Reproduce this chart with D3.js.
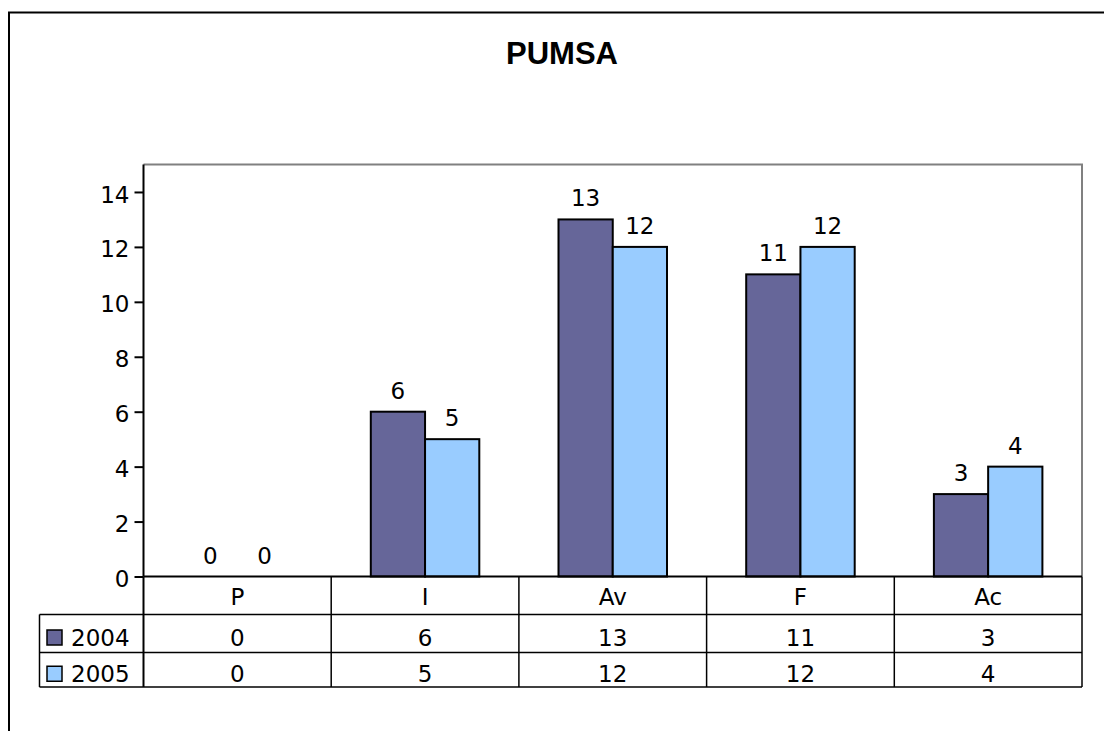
<!DOCTYPE html>
<html>
<head>
<meta charset="utf-8">
<script src="https://cdn.jsdelivr.net/npm/d3@7"></script>
<style>
  body { margin: 0; background: #fff; }
  text { font-family: "DejaVu Sans", Verdana, sans-serif; fill: #000; }
</style>
</head>
<body>
<svg width="1104" height="731"></svg>
<script>
// Data
var categories = ["P", "I", "Av", "F", "Ac"];
var seriesNames = ["2004", "2005"];
var values2004 = [0, 6, 13, 11, 3];
var values2005 = [0, 5, 12, 12, 4];
var yTicks = [0, 2, 4, 6, 8, 10, 12, 14];
var colours = ["#666699", "#99ccff"];

var series = [values2004, values2005];

// Layout
var width = 1104,
    height = 731,
    fontSize = "23px",
    plot = { left: 143.5, right: 1082, top: 164.5, bottom: 576.5 },
    rowH = [38, 38, 34.5];

var svg = d3.select("svg");

// Outer frame
svg.append("path")
    .attr("d", "M9,731V12.5H1104")
    .attr("fill", "none")
    .attr("stroke", "#000")
    .attr("stroke-width", 2);

// Title
svg.append("text")
    .attr("x", 562)
    .attr("y", 64)
    .attr("text-anchor", "middle")
    .style("font-family", "'Liberation Sans', Arial, sans-serif")
    .style("font-size", "31px")
    .style("font-weight", "bold")
    .text("PUMSA");

// Scales
var x = d3.scaleBand()
    .domain(categories)
    .range([plot.left, plot.right]);

var xInner = d3.scaleBand()
    .domain(seriesNames)
    .range([0, 108.5]);

var y = d3.scaleLinear()
    .domain([0, 15])
    .range([plot.bottom, plot.top]);

// Plot area border (grey)
svg.append("path")
    .attr("d", "M" + plot.left + "," + plot.top + "H" + plot.right + "V" + plot.bottom)
    .attr("fill", "none")
    .attr("stroke", "#808080")
    .attr("stroke-width", 2);

// Bars
var groups = svg.append("g")
    .selectAll("g")
    .data(series)
    .enter()
    .append("g");

groups.selectAll("rect")
    .data(function(d, i) {
        return d.map(function(v, j) { return { s: i, c: categories[j], v: v }; });
    })
    .enter()
    .filter(function(d) { return d.v > 0; })
    .append("rect")
    .attr("x", function(d) { return x(d.c) + (x.bandwidth() - 108.5) / 2 + xInner(seriesNames[d.s]); })
    .attr("y", function(d) { return y(d.v); })
    .attr("width", xInner.bandwidth())
    .attr("height", function(d) { return y(0) - y(d.v); })
    .attr("fill", function(d) { return colours[d.s]; })
    .attr("stroke", "#000")
    .attr("stroke-width", 2);

// Value labels
groups.selectAll("text")
    .data(function(d, i) {
        return d.map(function(v, j) { return { s: i, c: categories[j], v: v }; });
    })
    .enter()
    .append("text")
    .attr("x", function(d) { return x(d.c) + (x.bandwidth() - 108.5) / 2 + xInner(seriesNames[d.s]) + xInner.bandwidth() / 2; })
    .attr("y", function(d) { return y(d.v) - 13; })
    .attr("text-anchor", "middle")
    .style("font-size", fontSize)
    .text(function(d) { return d.v; });

// Y axis
var yAxis = d3.axisLeft(y)
    .tickValues(yTicks)
    .tickSize(9)
    .tickPadding(5);

var yg = svg.append("g")
    .attr("transform", "translate(" + plot.left + ",0)")
    .call(yAxis);

yg.select(".domain").attr("d", "M0," + plot.top + "V" + plot.bottom)
    .attr("stroke", "#000").attr("stroke-width", 2);
yg.selectAll(".tick line").attr("stroke", "#000").attr("stroke-width", 2);
yg.selectAll(".tick text")
    .style("font-size", fontSize)
    .attr("font-family", null)
    .attr("y", 2)
    .attr("dy", "0.35em");

// Data table
var tableTop = plot.bottom,
    rowTops = [tableTop, tableTop + rowH[0], tableTop + rowH[0] + rowH[1]],
    tableBottom = tableTop + rowH[0] + rowH[1] + rowH[2],
    legendLeft = 39.5;

var table = svg.append("g")
    .attr("stroke", "#000")
    .attr("stroke-width", 1.5)
    .attr("fill", "none");

// horizontal lines
table.append("line").attr("x1", plot.left).attr("x2", plot.right).attr("y1", tableTop).attr("y2", tableTop).attr("stroke-width", 2);
table.append("line").attr("x1", legendLeft).attr("x2", plot.right).attr("y1", rowTops[1]).attr("y2", rowTops[1]);
table.append("line").attr("x1", legendLeft).attr("x2", plot.right).attr("y1", rowTops[2]).attr("y2", rowTops[2]);
table.append("line").attr("x1", legendLeft).attr("x2", plot.right).attr("y1", tableBottom).attr("y2", tableBottom);

// vertical lines
table.append("line").attr("x1", legendLeft).attr("x2", legendLeft).attr("y1", rowTops[1]).attr("y2", tableBottom);
table.selectAll(".col")
    .data(categories)
    .enter()
    .append("line")
    .attr("x1", function(d) { return x(d) + x.bandwidth(); })
    .attr("x2", function(d) { return x(d) + x.bandwidth(); })
    .attr("y1", tableTop)
    .attr("y2", tableBottom);
table.append("line").attr("x1", plot.left).attr("x2", plot.left).attr("y1", tableTop).attr("y2", tableBottom).attr("stroke-width", 2);

// category labels
svg.append("g")
    .selectAll("text")
    .data(categories)
    .enter()
    .append("text")
    .attr("x", function(d) { return x(d) + x.bandwidth() / 2; })
    .attr("y", rowTops[0] + rowH[0] / 2 + 1)
    .attr("dy", "0.35em")
    .attr("text-anchor", "middle")
    .style("font-size", fontSize)
    .text(function(d) { return d; });

// series rows
series.forEach(function(vals, i) {
    var top = rowTops[i + 1],
        mid = top + rowH[i + 1] / 2 + 4;

    svg.append("rect")
        .attr("x", 47)
        .attr("y", mid - 7.5)
        .attr("width", 15)
        .attr("height", 15)
        .attr("fill", colours[i])
        .attr("stroke", "#000")
        .attr("stroke-width", 1.5);

    svg.append("text")
        .attr("x", 71)
        .attr("y", mid)
        .attr("dy", "0.35em")
        .style("font-size", fontSize)
        .text(seriesNames[i]);

    svg.append("g")
        .selectAll("text")
        .data(vals)
        .enter()
        .append("text")
        .attr("x", function(d, j) { return x(categories[j]) + x.bandwidth() / 2; })
        .attr("y", mid)
        .attr("dy", "0.35em")
        .attr("text-anchor", "middle")
        .style("font-size", fontSize)
        .text(function(d) { return d; });
});
</script>
</body>
</html>
